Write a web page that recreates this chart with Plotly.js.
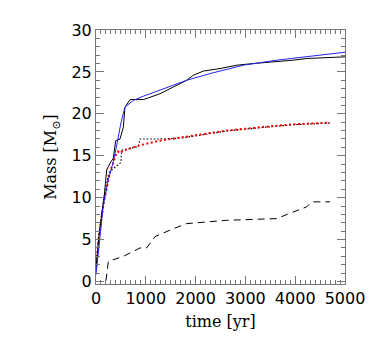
<!DOCTYPE html>
<html>
<head>
<meta charset="utf-8">
<script src="https://cdn.plot.ly/plotly-3.0.1.min.js"></script>
<style>
  html, body { margin: 0; padding: 0; background: #fff; }
  #chart { width: 374px; height: 345px; }
</style>
</head>
<body>
<div id="chart"></div>
<script>
// total mass, solid black
const totalTime = [0, 60, 167, 214, 281, 348, 395, 482, 549, 582, 683, 950, 1050, 1285, 1553, 1820, 1954, 2155, 2490, 2825, 3160, 3628, 3963, 4230, 4632, 5000]
const totalMass = [1.5, 5.5, 10.3, 13.3, 14.1, 14.7, 16.8, 17.0, 18.4, 20.8, 21.7, 21.7, 21.9, 22.4, 23.2, 24.0, 24.6, 25.1, 25.4, 25.8, 26.0, 26.2, 26.4, 26.6, 26.75, 26.8]

// fit, blue
const fitTime = [0, 60, 147, 250, 348, 428, 500, 582, 750, 950, 1285, 1820, 2289, 2958, 3628, 4297, 5000]
const fitMass = [0.8, 4.5, 9.1, 12.2, 14.3, 16.6, 18.9, 20.8, 21.6, 22.1, 22.8, 24.0, 24.8, 25.8, 26.4, 26.9, 27.35]

// red dotted
const redTime = [0, 60, 147, 281, 402, 442, 480, 540, 700, 884, 1285, 1954, 2623, 3293, 3963, 4700]
const redMass = [1.8, 5.5, 9.1, 13.1, 15.1, 15.5, 15.3, 15.6, 15.9, 16.25, 16.8, 17.4, 18.0, 18.4, 18.75, 18.95]

// black dotted
const dotTime = [0, 60, 147, 250, 315, 449, 500, 515, 850, 884, 1285, 1700, 2000, 2623, 3293, 3963, 4700]
const dotMass = [1.8, 5.5, 9.5, 12.8, 13.3, 13.9, 14.2, 15.65, 16.1, 17.0, 17.0, 17.1, 17.4, 17.95, 18.35, 18.7, 18.9]

// dashed black
const dashTime = [200, 248, 549, 884, 1017, 1185, 1553, 1820, 2623, 3628, 3963, 4230, 4330, 4700]
const dashMass = [0.1, 2.4, 3.0, 4.0, 4.0, 5.35, 6.3, 6.9, 7.3, 7.5, 8.3, 8.9, 9.5, 9.5]

const dashed = {
    x: dashTime, y: dashMass, mode: "lines",
    line: { color: "black", width: 1, dash: "7px,5px" }
}
const blackDotted = {
    x: dotTime, y: dotMass, mode: "lines",
    line: { color: "black", width: 1.2, dash: "1.5px,2px" }
}
const redDotted = {
    x: redTime, y: redMass, mode: "lines",
    line: { color: "red", width: 2, dash: "2px,2.5px" }
}
const total = {
    x: totalTime, y: totalMass, mode: "lines",
    line: { color: "black", width: 1 }
}
const fit = {
    x: fitTime, y: fitMass, mode: "lines",
    line: { color: "#2222ee", width: 1 }
}

const axisCommon = {
    showgrid: false, zeroline: false,
    showline: true, linecolor: "#777", linewidth: 1,
    mirror: "ticks", ticks: "inside", tickcolor: "#777",
    ticklen: 8, tickwidth: 1,
    tickfont: { family: "DejaVu Sans", size: 16, color: "black" }
}

const layout = {
    width: 374, height: 345,
    margin: { l: 96, r: 29, t: 30, b: 61 },
    showlegend: false,
    paper_bgcolor: "white", plot_bgcolor: "white",
    xaxis: Object.assign({}, axisCommon, {
        range: [0, 5000], dtick: 1000,
        minor: { ticks: "inside", dtick: 100, ticklen: 4, tickcolor: "#777" },
        title: { text: "time [yr]", font: { family: "DejaVu Serif", size: 16, color: "black" }, standoff: 8 }
    }),
    yaxis: Object.assign({}, axisCommon, {
        range: [-0.3, 30], dtick: 5, tick0: 0,
        minor: { ticks: "inside", dtick: 1, ticklen: 4, tickcolor: "#777" },
        title: { text: "Mass [M<sub>⊙</sub>]", font: { family: "DejaVu Serif", size: 16, color: "black" }, standoff: 10 }
    })
}

Plotly.newPlot("chart", [dashed, blackDotted, redDotted, total, fit], layout, { staticPlot: true })
</script>
</body>
</html>
